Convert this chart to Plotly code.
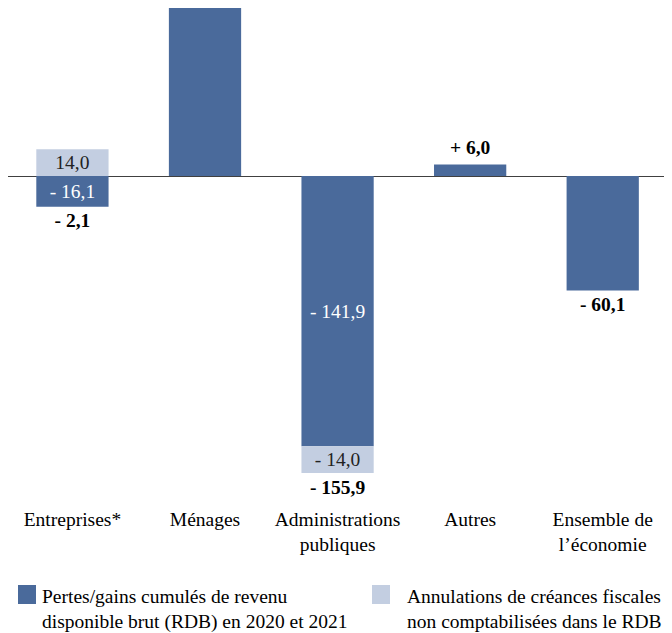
import plotly.graph_objects as go

categories = ["Entreprises*", "Ménages", "Administrations<br>publiques", "Autres", "Ensemble de<br>l’économie"]
rdb_values = [-16.1, 91.9, -141.9, 6.0, -60.1]
creances_values = [14.0, 0.0, -14.0, 0.0, 0.0]
legend_names = ["Pertes/gains cumulés de revenu<br>disponible brut (RDB) en 2020 et 2021",
                "Annulations de créances fiscales<br>non comptabilisées dans le RDB"]

DARK = "#4A6A9B"
LIGHT = "#C3CEE1"
FONT = "Times New Roman, Liberation Serif, serif"
FS = 19.5

# page body has an 8px margin: figure is drawn in page coords minus 8
OFF_PX = 8
W, H = 672 - OFF_PX, 633 - OFF_PX
ML, MR, MT, MB = 0, 3, 0, 128
PW, PH = W - ML - MR, H - MT - MB


def fmt(v, sign_plus=False):
    s = f"{abs(v):.1f}".replace(".", ",")
    if v < 0:
        return "- " + s
    return ("+ " + s) if sign_plus else s


def has_two(i):
    return creances_values[i] != 0


y_top = 88.2
y_bot = -172.7

dark_text = [fmt(v) if has_two(i) else "" for i, v in enumerate(rdb_values)]
light_text = [fmt(v) if v != 0 else "" for v in creances_values]

totals = [a + b for a, b in zip(rdb_values, creances_values)]
tops = [max(a, 0) + max(b, 0) for a, b in zip(rdb_values, creances_values)]
bottoms = [min(a, 0) + min(b, 0) for a, b in zip(rdb_values, creances_values)]
OFF = 8.3
total_y = [(t + OFF) if tot > 0 else (b - OFF) for tot, t, b in zip(totals, tops, bottoms)]
# labels falling outside the visible range are not shown (as in the source chart)
total_text = ["<b>" + fmt(t, sign_plus=True) + "</b>" if y_bot < ty < y_top else ""
              for t, ty in zip(totals, total_y)]

fig = go.Figure()
fig.add_trace(go.Bar(
    x=categories, y=rdb_values, marker=dict(color=DARK, line=dict(width=0)),
    width=0.545, text=dark_text, textposition="inside", insidetextanchor="middle",
    textangle=0, textfont=dict(family=FONT, size=FS, color="white"),
    constraintext="none", name=legend_names[0], showlegend=False, hoverinfo="skip"))
fig.add_trace(go.Bar(
    x=categories, y=creances_values, marker=dict(color=LIGHT, line=dict(width=0)),
    width=0.545, text=light_text, textposition="inside", insidetextanchor="middle",
    textangle=0, textfont=dict(family=FONT, size=FS, color="#222222"),
    constraintext="none", name=legend_names[1], showlegend=False, hoverinfo="skip"))
fig.add_trace(go.Scatter(
    x=categories, y=total_y, mode="text", text=total_text, textposition="middle center",
    textfont=dict(family=FONT, size=FS, color="black"), cliponaxis=True,
    showlegend=False, hoverinfo="skip"))


def px_to_paper(x, y):
    # x, y given in reference page pixels
    x -= OFF_PX
    y -= OFF_PX
    return (x - ML) / PW, (H - MB - y) / PH


# manual legend
leg = [(18, 36, 585, 604, 40, DARK, legend_names[0]),
       (372, 390, 585, 604, 405, LIGHT, legend_names[1])]
for x0, x1, y0, y1, tx, col, name in leg:
    px0, py0 = px_to_paper(x0, y1)
    px1, py1 = px_to_paper(x1, y0)
    fig.add_shape(type="rect", xref="paper", yref="paper", x0=px0, x1=px1, y0=py0, y1=py1,
                  fillcolor=col, line=dict(width=0))
    ax, ay = px_to_paper(tx, 584)
    fig.add_annotation(xref="paper", yref="paper", x=ax, y=ay, xanchor="left", yanchor="top",
                       text=name, showarrow=False, align="left",
                       font=dict(family=FONT, size=FS, color="black"))

fig.update_layout(
    width=W, height=H, barmode="relative",
    margin=dict(l=ML, r=MR, t=MT, b=MB, pad=0),
    plot_bgcolor="white", paper_bgcolor="white",
    showlegend=False,
    xaxis=dict(range=[-0.486, 4.5], showline=False, showgrid=False, ticks="",
               tickfont=dict(family=FONT, size=FS, color="black"), zeroline=False),
    yaxis=dict(range=[y_bot, y_top], showgrid=False, showticklabels=False, ticks="",
               zeroline=True, zerolinecolor="#404040", zerolinewidth=1, showline=False),
)

fig.write_html("out.html")
